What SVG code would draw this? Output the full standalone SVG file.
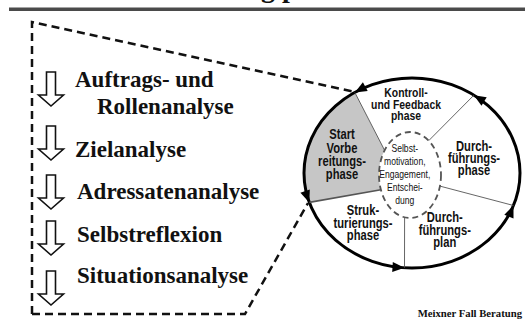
<svg xmlns="http://www.w3.org/2000/svg" width="525" height="320" viewBox="0 0 525 320">
<style>
.serif{font-family:"Liberation Serif","Times New Roman",serif;font-weight:bold;fill:#111}
.step{font-size:23px}
.lbl{font-family:"Liberation Sans",Arial,sans-serif;font-weight:bold;font-size:14px;fill:#111;text-anchor:middle}
.lbl13{font-size:13px}
.inner{font-family:"Liberation Sans",Arial,sans-serif;font-size:11px;fill:#111;text-anchor:middle}
.darr{fill:#fff;stroke:#111;stroke-width:1.6;stroke-linejoin:miter}
.dash{fill:none;stroke:#111;stroke-width:2.5;stroke-dasharray:8 5}
.spoke{stroke:#555;stroke-width:0.9;fill:none}
.ah{fill:#000}
</style>
<defs>
<path id="darr" d="M-4.5,0 H4.5 V23 H12.5 L0,34 L-12.5,23 H-4.5 Z"/>
</defs>

<!-- header -->
<rect x="9" y="7.5" width="516" height="3.5" fill="#4a4a4a"/>
<text class="serif" x="261" y="-3" font-size="28">g p</text>

<!-- dashed frame -->
<g id="frame">
<path class="dash" d="M32,314 V22 L355,92"/>
<path class="dash" d="M32,314 H245 L308,203"/>
</g>

<!-- left steps -->
<g id="step1"><use href="#darr" class="darr" x="51" y="72"/><text class="serif step" x="75" y="87">Auftrags- und</text><text class="serif step" x="97" y="114">Rollenanalyse</text></g>
<g id="step2"><use href="#darr" class="darr" x="51" y="126"/><text class="serif step" x="75" y="157">Zielanalyse</text></g>
<g id="step3"><use href="#darr" class="darr" x="51" y="175"/><text class="serif step" x="77" y="199">Adressatenanalyse</text></g>
<g id="step4"><use href="#darr" class="darr" x="51" y="221"/><text class="serif step" x="77" y="242">Selbstreflexion</text></g>
<g id="step5"><use href="#darr" class="darr" x="51" y="271"/><text class="serif step" x="77" y="283">Situationsanalyse</text></g>

<!-- cycle -->
<g id="start-phase">
<path d="M354.8,92.4 A108,95 0 0 0 309.3,202.4 L380.9,189.7 A31,43 0 0 1 384.6,150.3 Z" fill="#c6c6c6"/>
</g>
<g id="connectors">
<ellipse cx="412" cy="173" rx="108" ry="95" fill="none" stroke="#000" stroke-width="3"/>
<line class="spoke" x1="354.8" y1="92.4" x2="384.6" y2="150.3"/>
<line class="spoke" x1="473.9" y1="95.2" x2="428.7" y2="140.7"/>
<line class="spoke" x1="513.5" y1="205.5" x2="439.9" y2="186.1"/>
<line class="spoke" x1="404.5" y1="267.8" x2="404.6" y2="217.3"/>
<line x1="309.3" y1="202.4" x2="380.9" y2="189.7" stroke="#555" stroke-width="1.6"/>
<polygon class="ah" points="354.8,92.4 362.9,82.2 367.7,91.0"/>
<polygon class="ah" points="473.9,95.2 486.7,97.2 481.5,105.8"/>
<polygon class="ah" points="513.5,205.5 513.5,218.5 504.3,214.7"/>
<polygon class="ah" points="404.5,267.8 392.2,272.1 392.8,262.1"/>
<polygon class="ah" points="309.3,202.4 300.4,192.8 309.8,189.4"/>
</g>

<g id="core">
<ellipse cx="410" cy="175" rx="31" ry="43" fill="none" stroke="#555" stroke-width="1.8" stroke-dasharray="6 4"/>
<g transform="matrix(0.78 0 0 1 0 0)">
<text class="inner" x="519" y="152">Selbst-</text>
<text class="inner" x="519" y="165">motivation,</text>
<text class="inner" x="519" y="178">Engagement,</text>
<text class="inner" x="519" y="191">Entschei-</text>
<text class="inner" x="519" y="204">dung</text>
</g>
</g>

<g id="label-start" transform="matrix(0.8 0 0 1 0 0)">
<text class="lbl" x="427.5" y="139">Start</text>
<text class="lbl" x="427.5" y="153">Vorbe</text>
<text class="lbl" x="427.5" y="166">reitungs-</text>
<text class="lbl" x="427.5" y="179">phase</text>
</g>
<g id="label-kontroll" transform="matrix(0.8 0 0 1 0 0)">
<text class="lbl lbl13" x="507.5" y="97">Kontroll-</text>
<text class="lbl lbl13" x="507.5" y="109">und Feedback</text>
<text class="lbl lbl13" x="507.5" y="120">phase</text>
</g>
<g id="label-durchphase" transform="matrix(0.8 0 0 1 0 0)">
<text class="lbl" x="592.5" y="151">Durch-</text>
<text class="lbl" x="592.5" y="163">führungs-</text>
<text class="lbl" x="592.5" y="175">phase</text>
</g>
<g id="label-plan" transform="matrix(0.8 0 0 1 0 0)">
<text class="lbl" x="556" y="222">Durch-</text>
<text class="lbl" x="556" y="235">führungs-</text>
<text class="lbl" x="556" y="247">plan</text>
</g>
<g id="label-struk" transform="matrix(0.8 0 0 1 0 0)">
<text class="lbl" x="453.75" y="215">Struk-</text>
<text class="lbl" x="453.75" y="228">turierungs-</text>
<text class="lbl" x="453.75" y="240">phase</text>
</g>

<text class="serif" x="522" y="317" font-size="10.7" text-anchor="end">Meixner Fall Beratung</text>
</svg>
